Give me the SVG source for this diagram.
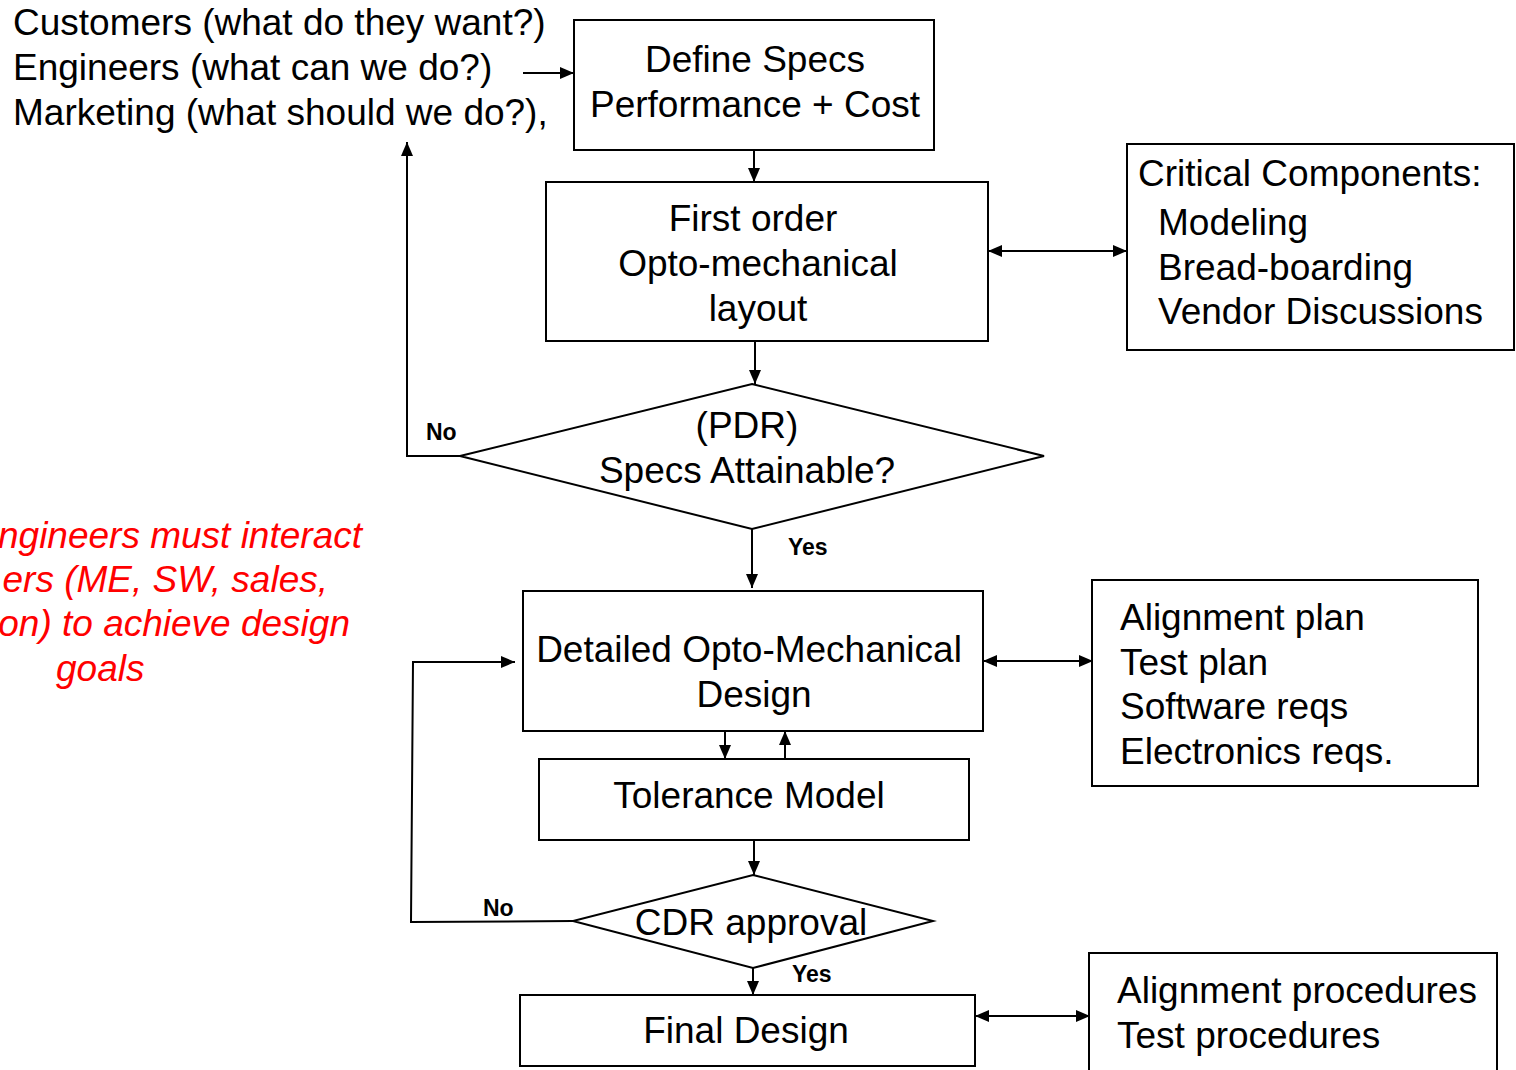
<svg xmlns="http://www.w3.org/2000/svg" width="1516" height="1070" viewBox="0 0 1516 1070">
<style>
text{font-family:"Liberation Sans",Arial,sans-serif;font-size:37px;fill:#000}
.c{text-anchor:middle}
.lbl{font-size:23px;font-weight:bold}
.red{fill:#ff0000;font-style:italic}
.box{fill:#fff;stroke:#000;stroke-width:2}
.ln{fill:none;stroke:#000;stroke-width:2}
</style>
<defs>
<marker id="ah" viewBox="0 0 14 12" refX="14" refY="6" markerWidth="14" markerHeight="12" markerUnits="userSpaceOnUse" orient="auto-start-reverse">
<path d="M0,0 L14,6 L0,12 Z" fill="#000"/>
</marker>
</defs>
<rect width="1516" height="1070" fill="#fff"/>
<g id="inputs">
<text x="13" y="35">Customers (what do they want?)</text>
<text x="13" y="80">Engineers (what can we do?)</text>
<text x="13" y="125">Marketing (what should we do?),</text>
</g>
<g id="note">
<text class="red" x="362" y="548" text-anchor="end">ngineers must interact</text>
<text class="red" x="328" y="592" text-anchor="end">ers (ME, SW, sales,</text>
<text class="red" x="350" y="636" text-anchor="end">on) to achieve design</text>
<text class="red" x="56" y="681">goals</text>
</g>
<g id="connectors">
<line class="ln" x1="523" y1="73" x2="574" y2="73" marker-end="url(#ah)"/>
<line class="ln" x1="754" y1="150" x2="754" y2="182" marker-end="url(#ah)"/>
<line class="ln" x1="755" y1="341" x2="755" y2="384" marker-end="url(#ah)"/>
<polyline class="ln" points="460,456 407,456 407,142" marker-end="url(#ah)"/>
<line class="ln" x1="752" y1="529" x2="752" y2="588" marker-end="url(#ah)"/>
<line class="ln" x1="988" y1="251" x2="1127" y2="251" marker-start="url(#ah)" marker-end="url(#ah)"/>
<line class="ln" x1="983" y1="661" x2="1093" y2="661" marker-start="url(#ah)" marker-end="url(#ah)"/>
<line class="ln" x1="725" y1="731" x2="725" y2="759" marker-end="url(#ah)"/>
<line class="ln" x1="785" y1="759" x2="785" y2="731" marker-end="url(#ah)"/>
<line class="ln" x1="754" y1="840" x2="754" y2="875" marker-end="url(#ah)"/>
<polyline class="ln" points="573,921 411,922 413,662 515,662" marker-end="url(#ah)"/>
<line class="ln" x1="753" y1="968" x2="753" y2="995" marker-end="url(#ah)"/>
<line class="ln" x1="975" y1="1016" x2="1090" y2="1016" marker-start="url(#ah)" marker-end="url(#ah)"/>
<text class="lbl" x="426" y="440">No</text>
<text class="lbl" x="788" y="555">Yes</text>
<text class="lbl" x="483" y="916">No</text>
<text class="lbl" x="792" y="982">Yes</text>
</g>
<g id="define">
<rect class="box" x="574" y="20" width="360" height="130"/>
<text class="c" x="755" y="72">Define Specs</text>
<text class="c" x="755" y="117">Performance + Cost</text>
</g>
<g id="firstorder">
<rect class="box" x="546" y="182" width="442" height="159"/>
<text class="c" x="753" y="231">First order</text>
<text class="c" x="758" y="276">Opto-mechanical</text>
<text class="c" x="758" y="321">layout</text>
</g>
<g id="critical">
<rect class="box" x="1127" y="144" width="387" height="206"/>
<text x="1138" y="186">Critical Components:</text>
<text x="1158" y="235">Modeling</text>
<text x="1158" y="280">Bread-boarding</text>
<text x="1158" y="324">Vendor Discussions</text>
</g>
<g id="pdr">
<polygon class="box" points="752,384 1044,456 752,529 460,456"/>
<text class="c" x="747" y="438">(PDR)</text>
<text class="c" x="747" y="483">Specs Attainable?</text>
</g>
<g id="detailed">
<rect class="box" x="523" y="591" width="460" height="140"/>
<text class="c" x="749" y="662">Detailed Opto-Mechanical</text>
<text class="c" x="754" y="707">Design</text>
</g>
<g id="plans">
<rect class="box" x="1092" y="580" width="386" height="206"/>
<text x="1120" y="630">Alignment plan</text>
<text x="1120" y="675">Test plan</text>
<text x="1120" y="719">Software reqs</text>
<text x="1120" y="764">Electronics reqs.</text>
</g>
<g id="tolerance">
<rect class="box" x="539" y="759" width="430" height="81"/>
<text class="c" x="749" y="808">Tolerance Model</text>
</g>
<g id="cdr">
<polygon class="box" points="753,875 933,921 753,968 573,921"/>
<text class="c" x="751" y="935">CDR approval</text>
</g>
<g id="final">
<rect class="box" x="520" y="995" width="455" height="71"/>
<text class="c" x="746" y="1043">Final Design</text>
</g>
<g id="procedures">
<rect class="box" x="1089" y="953" width="408" height="130"/>
<text x="1117" y="1003">Alignment procedures</text>
<text x="1117" y="1048">Test procedures</text>
</g>
</svg>
